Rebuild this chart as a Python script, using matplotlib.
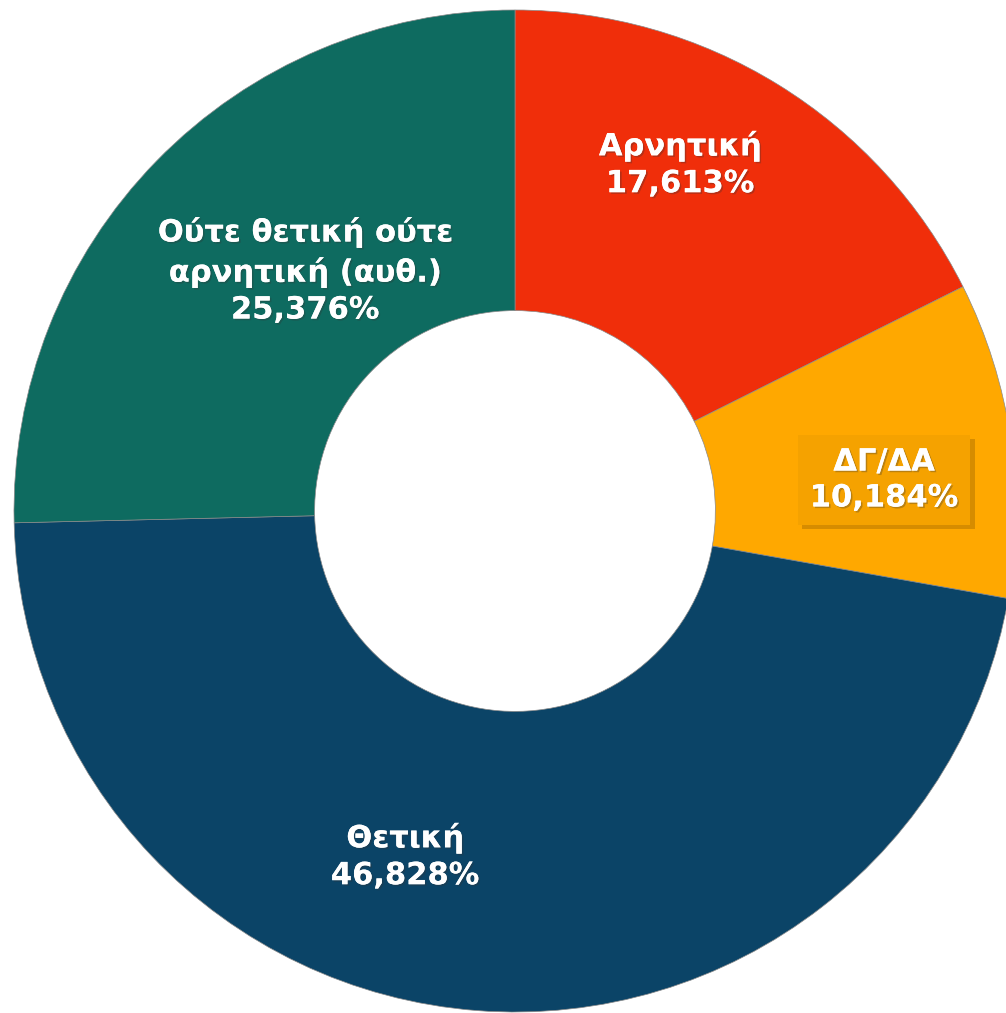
import matplotlib.pyplot as plt
import matplotlib.patheffects as pe

labels = ["Αρνητική", "ΔΓ/ΔΑ", "Θετική", "Ούτε θετική ούτε\nαρνητική (αυθ.)"]
values = [17.613, 10.184, 46.828, 25.376]
colors = ["#F02E0A", "#FFA800", "#0B4467", "#0E6B60"]

fig = plt.figure(figsize=(10.06, 10.13), dpi=100)
ax = fig.add_axes([0, 0, 1, 1])

# pie in pixel coordinates, center (515, 511 from top), radius 501
cx, cy, r = 515, 1013 - 511, 501
wedges, _ = ax.pie(values, colors=colors, startangle=90, counterclock=False,
                   radius=r, center=(cx, cy),
                   wedgeprops=dict(width=r * 0.6, edgecolor="#8a8a8a", linewidth=0.5))
ax.set_xlim(0, 1006)
ax.set_ylim(0, 1013)
ax.set_aspect("equal")
ax.axis("off")

# label positions (pixels from top-left)
pos = [(680, 164), (884, 480), (405, 856), (305, 270)]
shadow = [pe.withSimplePatchShadow(offset=(1.2, -1.2), shadow_rgbFace="#333333", alpha=0.3), pe.Normal()]
for i, (lab, v) in enumerate(zip(labels, values)):
    s = lab + "\n" + f"{v:.3f}".replace(".", ",") + "%"
    x, y = pos[i]
    t = ax.text(x, 1013 - y, s, ha="center", va="center", color="white",
                fontsize=22, fontweight="bold", family="DejaVu Sans",
                linespacing=1.3, path_effects=shadow)
    if i == 1:
        t.set_bbox(dict(boxstyle="square,pad=0.4", facecolor="#F5A200", edgecolor="none"))
        t.get_bbox_patch().set_path_effects([
            pe.withSimplePatchShadow(offset=(3, -3), shadow_rgbFace="#8a5a00", alpha=0.35),
            pe.Normal()])

fig.savefig("out.png", dpi=100)
